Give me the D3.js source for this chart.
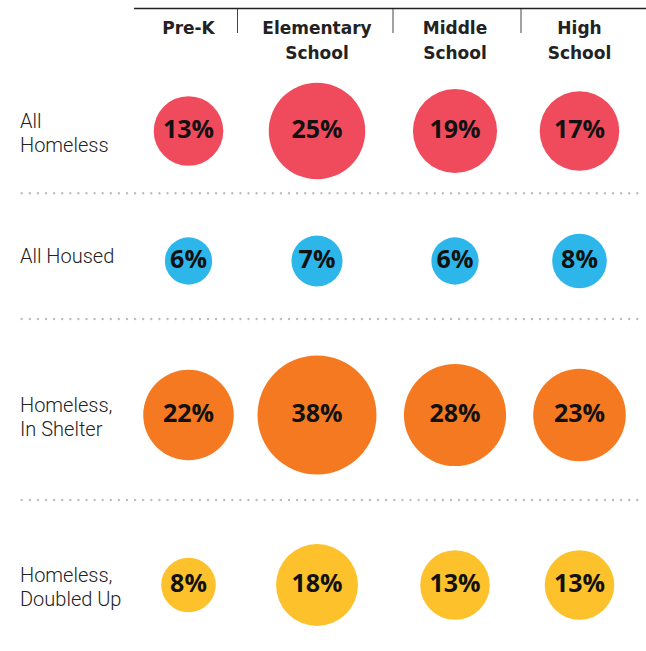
<!DOCTYPE html>
<html lang="en">

<head>
    <meta charset="UTF-8">
    <title>Homeless vs Housed by School Level</title>
    <script src="https://d3js.org/d3.v7.min.js"></script>
    <style>
        body { margin: 0; background: #fff; }
    </style>
</head>

<body>
    <script>
        // data
        var levels = ["Pre-K", "Elementary School", "Middle School", "High School"];
        var levelLines = [["Pre-K"], ["Elementary", "School"], ["Middle", "School"], ["High", "School"]];
        var groups = ["All Homeless", "All Housed", "Homeless, In Shelter", "Homeless, Doubled Up"];
        var groupLines = [["All", "Homeless"], ["All Housed"], ["Homeless,", "In Shelter"], ["Homeless,", "Doubled Up"]];
        var allHomeless = [13, 25, 19, 17];
        var allHoused = [6, 7, 6, 8];
        var inShelter = [22, 38, 28, 23];
        var doubledUp = [8, 18, 13, 13];

        var series = [allHomeless, allHoused, inShelter, doubledUp];
        var colors = ["#ef4b5d", "#2db6e9", "#f47920", "#fdc22b"];

        var width = 646, height = 651;

        var svg = d3.select("body").append("svg")
            .attr("width", width)
            .attr("height", height);

        // scales
        var x = d3.scaleOrdinal().domain(levels).range([188.5, 317, 455, 579.5]);
        var y = d3.scaleOrdinal().domain(groups).range([131, 261, 415, 585]);
        var r = d3.scaleSqrt().domain([0, 38]).range([0, 59.5]);

        // header rule + column separators
        svg.append("line")
            .attr("x1", 134).attr("x2", width)
            .attr("y1", 8.5).attr("y2", 8.5)
            .attr("stroke", "#222").attr("stroke-width", 1.5);

        svg.selectAll("line.sep")
            .data([237.5, 393, 521])
            .enter().append("line")
            .attr("class", "sep")
            .attr("x1", d => d).attr("x2", d => d)
            .attr("y1", 9).attr("y2", 33)
            .attr("stroke", "#444").attr("stroke-width", 1);

        // column headers
        var head = svg.selectAll("text.head")
            .data(levels)
            .enter().append("text")
            .attr("class", "head")
            .attr("text-anchor", "middle")
            .style("font-family", "DejaVu Sans")
            .style("font-weight", "bold")
            .style("font-size", "17px")
            .attr("fill", "#222");

        head.selectAll("tspan")
            .data((d, i) => levelLines[i].map(t => ({ t: t, lvl: d })))
            .enter().append("tspan")
            .attr("x", d => x(d.lvl))
            .attr("y", (d, j) => 33.5 + j * 25)
            .text(d => d.t);

        // dotted separators between rows
        svg.selectAll("line.dots")
            .data([193.3, 319, 500])
            .enter().append("line")
            .attr("class", "dots")
            .attr("x1", 21.7).attr("x2", 643)
            .attr("y1", d => d).attr("y2", d => d)
            .attr("stroke", "#bdbdbd")
            .attr("stroke-width", 2.4)
            .attr("stroke-linecap", "round")
            .attr("stroke-dasharray", "0 8.1");

        // row labels
        var lab = svg.selectAll("text.row")
            .data(groups)
            .enter().append("text")
            .attr("class", "row")
            .style("font-family", "Roboto")
            .style("font-weight", 300)
            .style("font-size", "20px")
            .attr("fill", "#222");

        lab.selectAll("tspan")
            .data((d, i) => groupLines[i].map(t => ({ t: t, g: d, n: groupLines[i].length })))
            .enter().append("tspan")
            .attr("x", 20)
            .attr("y", (d, j) => d.n === 1 ? y(d.g) + 2 : y(d.g) - 3 + j * 24)
            .text(d => d.t);

        // bubbles
        var rows = svg.selectAll("g.grp")
            .data(groups)
            .enter().append("g")
            .attr("class", "grp");

        var cells = rows.selectAll("g.cell")
            .data((g, i) => levels.map((l, j) => ({ g: g, l: l, v: series[i][j], c: colors[i] })))
            .enter().append("g")
            .attr("class", "cell")
            .attr("transform", d => "translate(" + x(d.l) + "," + y(d.g) + ")");

        cells.append("circle")
            .attr("r", d => r(d.v))
            .attr("fill", d => d.c);

        cells.append("text")
            .attr("text-anchor", "middle")
            .attr("y", 6.5)
            .style("font-family", "Open Sans")
            .style("font-weight", "bold")
            .style("font-size", "25px")
            .attr("fill", "#111")
            .text(d => d.v + "%");
    </script>
</body>

</html>
